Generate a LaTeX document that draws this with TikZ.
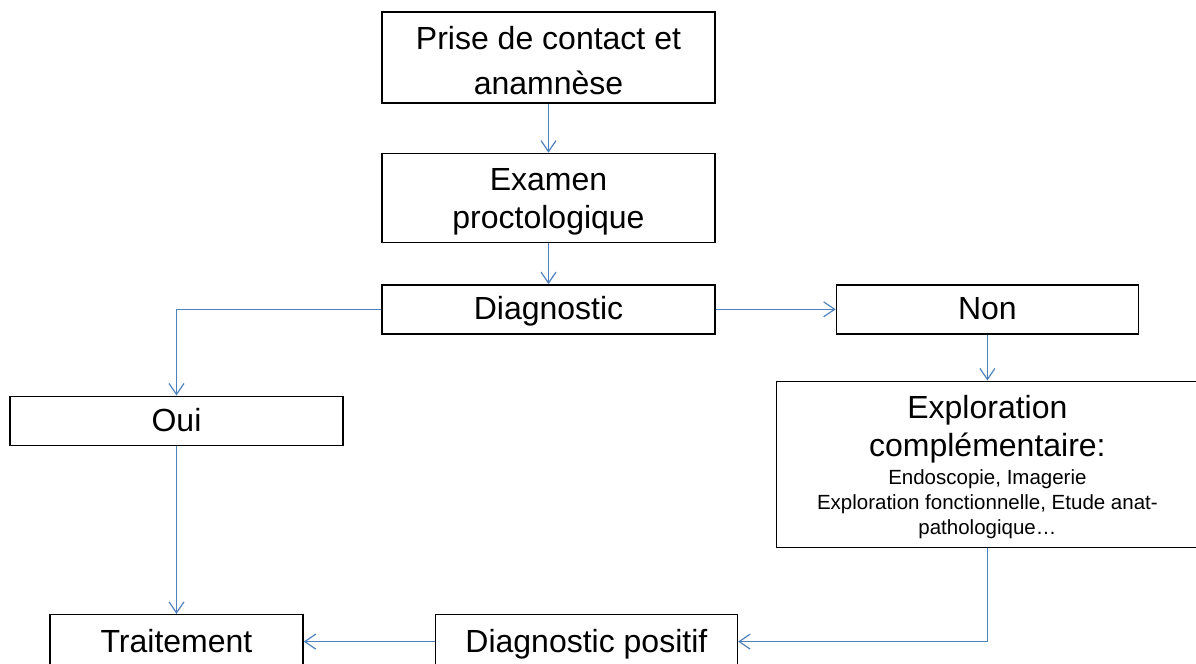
\documentclass[tikz,border=0pt]{standalone}
\usepackage{fontspec}
\setmainfont{Liberation Sans}
\usetikzlibrary{arrows.meta,positioning}
\definecolor{linkblue}{RGB}{79,129,189}

\begin{document}
\begin{tikzpicture}[
    node distance=20.5pt and 60pt,
    every node/.style={font=\fontsize{16pt}{19pt}\selectfont},
    box/.style={rectangle, draw=black, line width=0.7pt, inner sep=0pt, text width=166.5pt, align=flush center, text height=17.5pt, text depth=7pt},
    tall/.style={box, text height=18.5pt, text depth=26pt},
    arrow/.style={-{Straight Barb[length=5.5pt,width=7.5pt]}, draw=linkblue, line width=0.6pt}
]

% Keep the page at the reference size
\useasboundingbox (0,0) rectangle (598pt,-332pt);

% Main column
\node[tall, text depth=27pt, font=\fontsize{16pt}{22.8pt}\selectfont] (prise) at (274.25pt,-28.75pt) {Prise de contact et\\anamnèse};
\node[tall, below=24.5pt of prise] (examen) {Examen\\proctologique};
\node[box, below=of examen] (diag) {Diagnostic};

% Right branch
\node[box, right=of diag, text width=151pt] (non) {Non};
\node[box, below=23pt of non, text width=211pt, text height=18.65pt, text depth=64.35pt] (explor) {Exploration\\complémentaire:\par\vspace{1.65pt}{\fontsize{10.25pt}{12.5pt}\selectfont Endoscopie, Imagerie\\Exploration fonctionnelle, Etude anat-\\pathologique…\par}};

% Left branch
\node[box, below=30.5pt of diag, xshift=-186pt] (oui) {Oui};
\node[box, below=84pt of oui, text width=126.5pt, text height=19pt, text depth=8pt] (traitement) {Traitement};
\node[box, right=65.5pt of traitement, text width=151pt, text height=19pt, text depth=8pt] (diagpos) {Diagnostic positif};

% Arrows
\draw[arrow] (prise) -- (examen);
\draw[arrow] (examen) -- (diag);
\draw[arrow] (diag) -| (oui);
\draw[arrow] (diag) -- (non);
\draw[arrow] (non) -- (explor);
\draw[arrow] (explor) |- (diagpos);
\draw[arrow] (diagpos) -- (traitement);
\draw[arrow] (oui) -- (traitement);

\end{tikzpicture}
\end{document}
